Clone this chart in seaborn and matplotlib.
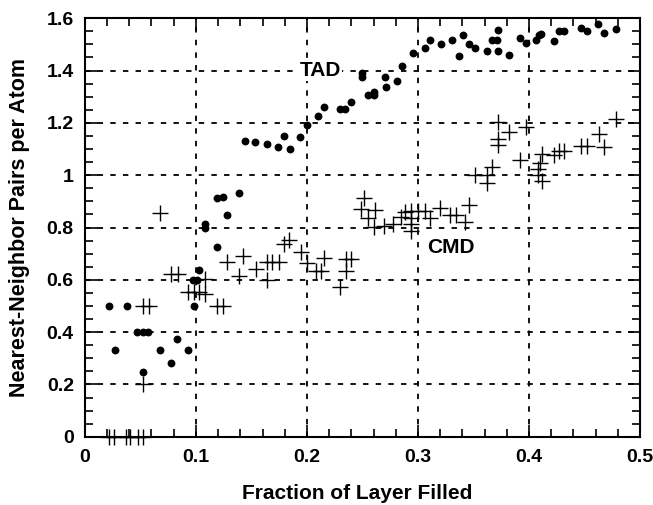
import numpy as np
import pandas as pd
import matplotlib
matplotlib.use("Agg")
import matplotlib.pyplot as plt
from matplotlib.ticker import MultipleLocator
import seaborn as sns

# TAD simulation results (filled circles)
tad_x = [0.022, 0.027, 0.0375, 0.047, 0.052, 0.057, 0.052, 0.0676, 0.078, 0.083,
         0.093, 0.098, 0.0976, 0.1006, 0.103, 0.108, 0.108, 0.119, 0.119, 0.124,
         0.128, 0.139, 0.144, 0.153, 0.164, 0.174, 0.179, 0.185, 0.194, 0.200,
         0.210, 0.215, 0.230, 0.234, 0.240, 0.250, 0.250, 0.255, 0.260, 0.260,
         0.270, 0.271, 0.281, 0.286, 0.296, 0.306, 0.311, 0.321, 0.331, 0.337,
         0.341, 0.346, 0.351, 0.362, 0.367, 0.371, 0.372, 0.372, 0.382, 0.392,
         0.397, 0.406, 0.409, 0.411, 0.423, 0.427, 0.432, 0.447, 0.452, 0.462,
         0.468, 0.478]
tad_y = [0.50, 0.333, 0.50, 0.40, 0.40, 0.40, 0.248, 0.333, 0.283, 0.374,
         0.333, 0.50, 0.60, 0.60, 0.637, 0.815, 0.80, 0.727, 0.911, 0.918,
         0.847, 0.931, 1.131, 1.125, 1.119, 1.108, 1.15, 1.10, 1.146, 1.193,
         1.227, 1.262, 1.253, 1.253, 1.281, 1.39, 1.374, 1.308, 1.319, 1.308,
         1.374, 1.336, 1.359, 1.416, 1.467, 1.485, 1.518, 1.502, 1.516, 1.454,
         1.534, 1.502, 1.487, 1.474, 1.515, 1.515, 1.556, 1.474, 1.461, 1.525,
         1.505, 1.515, 1.534, 1.54, 1.512, 1.55, 1.55, 1.563, 1.55, 1.579,
         1.544, 1.557]

# CMD simulation results (plus markers)
cmd_x = [0.022, 0.026, 0.037, 0.041, 0.048, 0.0525, 0.0525, 0.052, 0.058, 0.0676,
         0.078, 0.0835, 0.093, 0.098, 0.103, 0.108, 0.108, 0.119, 0.124, 0.128,
         0.139, 0.1425, 0.154, 0.164, 0.169, 0.175, 0.164, 0.179, 0.184, 0.195,
         0.200, 0.208, 0.213, 0.215, 0.230, 0.235, 0.240, 0.235, 0.251, 0.249,
         0.261, 0.255, 0.260, 0.269, 0.278, 0.285, 0.288, 0.294, 0.294, 0.294,
         0.294, 0.300, 0.306, 0.311, 0.320, 0.329, 0.334, 0.342, 0.346, 0.351,
         0.362, 0.362, 0.367, 0.372, 0.372, 0.372, 0.382, 0.392, 0.397, 0.408,
         0.408, 0.410, 0.412, 0.412, 0.423, 0.427, 0.432, 0.447, 0.452, 0.463,
         0.468, 0.478]
cmd_y = [0.0, 0.0, 0.0, 0.0, 0.0, 0.0, 0.20, 0.50, 0.50, 0.857,
         0.622, 0.622, 0.555, 0.555, 0.555, 0.602, 0.544, 0.50, 0.50, 0.667,
         0.615, 0.69, 0.642, 0.668, 0.668, 0.668, 0.60, 0.736, 0.752, 0.706,
         0.665, 0.633, 0.633, 0.685, 0.574, 0.681, 0.681, 0.633, 0.913, 0.87,
         0.868, 0.835, 0.801, 0.805, 0.815, 0.842, 0.859, 0.864, 0.838, 0.812,
         0.787, 0.864, 0.864, 0.835, 0.873, 0.847, 0.847, 0.821, 0.887, 1.0,
         1.0, 0.969, 1.03, 1.202, 1.138, 1.115, 1.166, 1.057, 1.183, 1.023,
         1.0, 1.048, 1.08, 0.978, 1.077, 1.093, 1.093, 1.112, 1.112, 1.157,
         1.106, 1.215]

x_ticks = [0, 0.1, 0.2, 0.3, 0.4, 0.5]
x_tick_labels = ["0", "0.1", "0.2", "0.3", "0.4", "0.5"]
y_ticks = [0, 0.2, 0.4, 0.6, 0.8, 1.0, 1.2, 1.4, 1.6]
y_tick_labels = ["0", "0.2", "0.4", "0.6", "0.8", "1", "1.2", "1.4", "1.6"]

sns.set_style("ticks")
plt.rcParams["font.family"] = ["Liberation Sans", "DejaVu Sans"]
plt.rcParams["font.weight"] = "bold"
plt.rcParams["text.color"] = "black"
plt.rcParams["axes.labelcolor"] = "black"
plt.rcParams["xtick.color"] = "black"
plt.rcParams["ytick.color"] = "black"

tad = pd.DataFrame({"x": tad_x, "y": tad_y})
cmd = pd.DataFrame({"x": cmd_x, "y": cmd_y})

fig = plt.figure(figsize=(6.53, 5.05), dpi=100)
ax = fig.add_axes([0.130, 0.135, 0.850, 0.829])

sns.scatterplot(data=tad, x="x", y="y", ax=ax, marker="o", s=32,
                color="black", edgecolor="black", linewidth=0, zorder=3,
                clip_on=False)
sns.scatterplot(data=cmd, x="x", y="y", ax=ax, marker="+", s=120,
                color="black", linewidth=1.0, zorder=3, clip_on=False)

ax.set_xlim(0, 0.5)
ax.set_ylim(0, 1.6)
ax.set_xticks(x_ticks)
ax.set_xticklabels(x_tick_labels)
ax.set_yticks(y_ticks)
ax.set_yticklabels(y_tick_labels)
ax.xaxis.set_minor_locator(MultipleLocator(0.02))
ax.yaxis.set_minor_locator(MultipleLocator(0.05))

# dashed grid at the interior major ticks
for xv in x_ticks[1:-1]:
    ax.axvline(xv, color="black", lw=1.3, ls=(0, (3, 4)), zorder=1)
for yv in y_ticks[1:-1]:
    ax.axhline(yv, color="black", lw=1.3, ls=(0, (3, 4)), zorder=1)

ax.tick_params(which="both", direction="in", top=True, right=True,
               width=1.2, labelsize=14, colors="black")
ax.tick_params(axis="x", which="both", pad=9)
ax.tick_params(axis="y", which="both", pad=8)
ax.tick_params(which="major", length=9)
ax.tick_params(which="minor", length=6)
for lab in ax.get_xticklabels() + ax.get_yticklabels():
    lab.set_fontweight("bold")
    lab.set_color("black")
for sp in ax.spines.values():
    sp.set_linewidth(1.5)
    sp.set_color("black")

ax.set_xlabel("Fraction of Layer Filled", fontsize=15, fontweight="bold",
              color="black")
ax.set_ylabel("Nearest-Neighbor Pairs per Atom", fontsize=15.5,
              fontweight="bold", color="black")
ax.xaxis.set_label_coords(0.49, -0.112)
ax.yaxis.set_label_coords(-0.099, 0.5)

ax.text(0.212, 1.40, "TAD", fontsize=15, fontweight="bold", ha="center",
        va="center", zorder=4, color="black",
        bbox=dict(facecolor="white", edgecolor="none", pad=1))
ax.text(0.330, 0.722, "CMD", fontsize=15, fontweight="bold", ha="center",
        va="center", zorder=4, color="black")

fig.savefig("out.png", dpi=100)
